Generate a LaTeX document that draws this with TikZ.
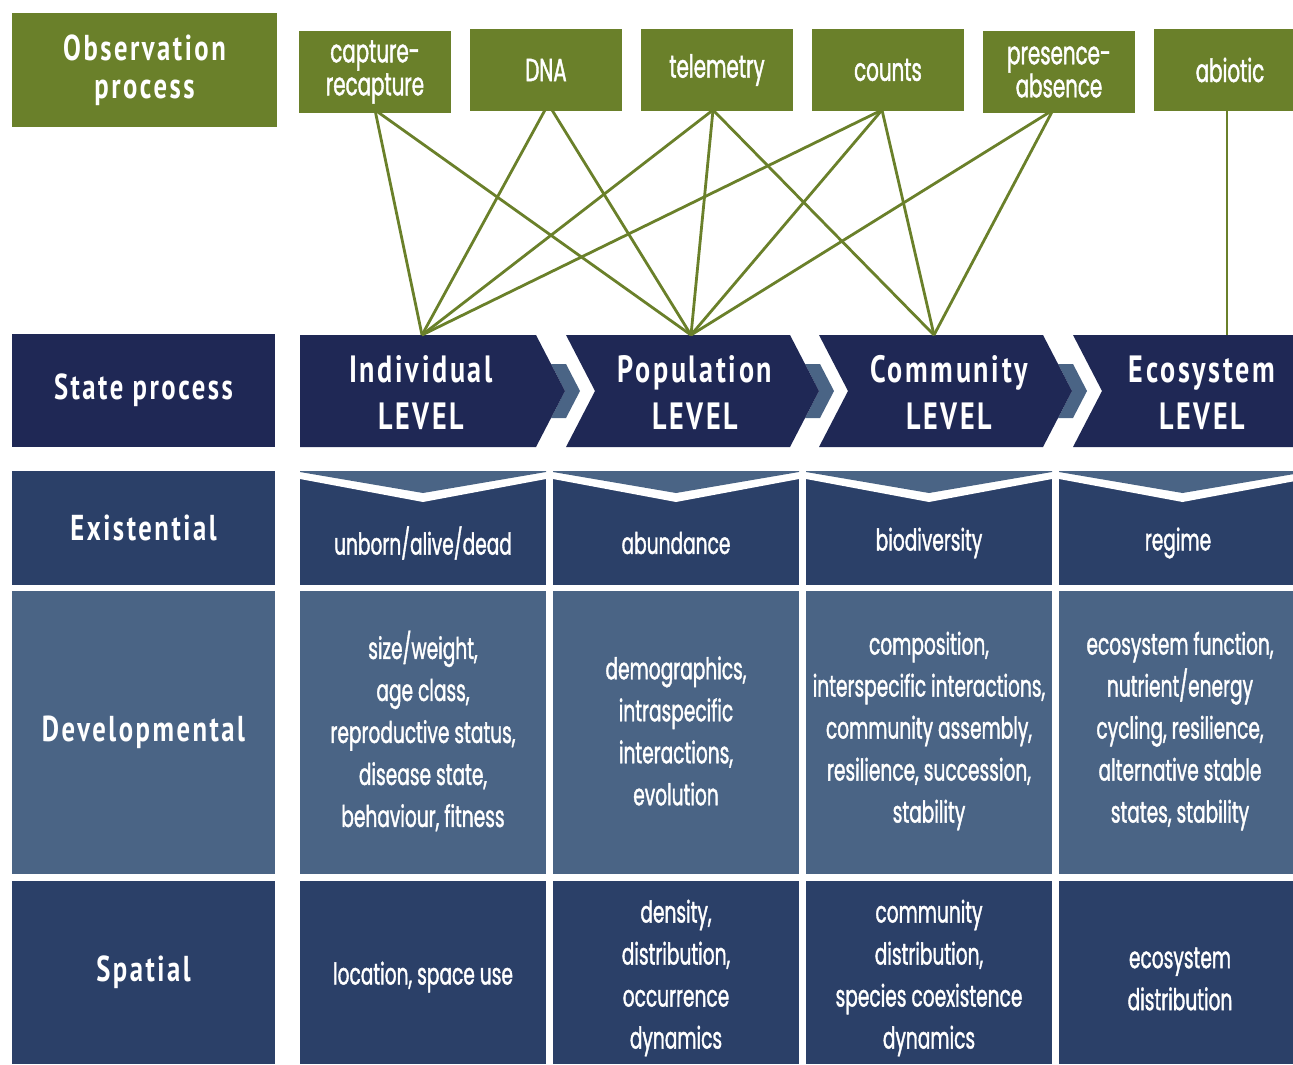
\documentclass[tikz,border=0pt]{standalone}
\usepackage{fontspec}
\newfontfamily\hfont{PT Sans}[FakeStretch=0.74,LetterSpace=7.0]
\newfontfamily\bfont{Poppins}[FakeStretch=0.62,FakeBold=1.3]
\definecolor{obsgreen}{HTML}{6A802A}
\definecolor{statenavy}{HTML}{1F2855}
\definecolor{rowdark}{HTML}{2B4068}
\definecolor{rowlight}{HTML}{4A6485}
\begin{document}
\begin{tikzpicture}[x=1pt,y=-1pt,
  obs/.style={fill=obsgreen, text=white, inner sep=0pt, minimum width=152pt, minimum height=81pt, align=center, font=\bfont\fontsize{32}{33}\selectfont},
  lbl/.style={inner sep=0pt, minimum width=263pt, text=white, align=center, font=\hfont\bfseries\fontsize{36}{40}\selectfont},
  lvl/.style={text=white, align=center, inner sep=0pt, font=\hfont\bfseries\fontsize{38}{47}\selectfont},
  cell/.style={text=white, align=center, inner sep=0pt, font=\bfont\fontsize{30}{42}\selectfont},
  link/.style={draw=obsgreen, line width=2.8pt}]
\useasboundingbox (0,0) rectangle (1293,1065);
\clip (0,0) rectangle (1293,1065);

% ---- observation process row ----
\node[lbl, fill=obsgreen, minimum width=265pt, minimum height=114pt] (obslbl) at (144.5,70) {Observation\\[-2pt]process};
\node[obs] (cap) at (375,72) {capture-\\recapture};
\node[obs] (dna) at (546,70) {DNA};
\node[obs] (tel) at (717,70) {telemetry};
\node[obs] (cnt) at (888,70) {counts};
\node[obs] (pre) at (1059,72) {presence-\\absence};
\node[obs] (abi) at (1230,70) {abiotic};

% ---- state process row ----
\node[lbl, fill=statenavy, minimum height=113pt] (statelbl) at (143.5,390.5) {State process};

% light small chevrons between levels
\foreach \s in {0,254,507}{
  \fill[rowlight] (551+\s,364) -- (566+\s,364) -- (580+\s,391) -- (566+\s,418) -- (551+\s,418) -- (565+\s,391) -- cycle;
}
% level chevrons
\fill[statenavy] (300,335) -- (536,335) -- (565,391) -- (536,447) -- (300,447) -- cycle;
\fill[statenavy] (566,335) -- (790,335) -- (819,391) -- (790,447) -- (566,447) -- (595,391) -- cycle;
\fill[statenavy] (819,335) -- (1043,335) -- (1072,391) -- (1043,447) -- (819,447) -- (848,391) -- cycle;
\fill[statenavy] (1073,335) -- (1320,335) -- (1320,447) -- (1073,447) -- (1102,391) -- cycle;
\node[lvl] (ind) at (421,393) {Individual\\LEVEL};
\node[lvl] (pop) at (695,393) {Population\\LEVEL};
\node[lvl] (com) at (949,393) {Community\\LEVEL};
\node[lvl] (eco) at (1202,393) {Ecosystem\\LEVEL};
\coordinate (indtop) at (422,335);
\coordinate (poptop) at (691,335);
\coordinate (comtop) at (934,335);
\coordinate (ecotop) at (1227,335);

% ---- connectors ----
\coordinate (capb) at (375,110);
\coordinate (dnab1) at (545,110);
\coordinate (dnab2) at (552,110);
\coordinate (telb) at (713,110);
\coordinate (cntb) at (882,110);
\coordinate (preb) at (1053,110);
\coordinate (abib) at (1227,110);
\draw[link] (capb) -- (indtop);
\draw[link] (capb) -- (poptop);
\draw[link] (dnab1) -- (indtop);
\draw[link] (dnab2) -- (poptop);
\draw[link] (telb) -- (indtop);
\draw[link] (telb) -- (poptop);
\draw[link] (telb) -- (comtop);
\draw[link] (cntb) -- (indtop);
\draw[link] (cntb) -- (poptop);
\draw[link] (cntb) -- (comtop);
\draw[link] (preb) -- (poptop);
\draw[link] (preb) -- (comtop);
\draw[link] (abib) -- (ecotop);

% ---- row labels ----
\node[lbl, fill=rowdark, minimum height=114pt] (exlbl) at (143.5,528) {Existential};
\node[lbl, fill=rowlight, minimum height=283pt] (devlbl) at (143.5,732.5) {Developmental};
\node[lbl, fill=rowdark, minimum height=183pt] (spalbl) at (143.5,972.5) {Spatial};

% ---- cell backgrounds ----
\foreach \xa/\xc/\xb in {300/423/546, 553/676/799, 806/929/1052, 1059/1182.5/1306}{
  \fill[rowdark] (\xa,471) rectangle (\xb,585);
  \fill[white] (\xa,471) -- (\xb,471) -- (\xb,479) -- (\xc,502) -- (\xa,479) -- cycle;
  \fill[rowlight] (\xa,471) -- (\xb,471) -- (\xb,472) -- (\xc,493) -- (\xa,472) -- cycle;
  \fill[rowlight] (\xa,591) rectangle (\xb,874);
  \fill[rowdark] (\xa,881) rectangle (\xb,1064);
}

% ---- existential texts ----
\node[cell] (ex1) at (423,543) {unborn/alive/dead};
\node[cell] (ex2) at (676,543) {abundance};
\node[cell] (ex3) at (929,543) {biodiversity};
\node[cell] (ex4) at (1178,543) {regime};

% ---- developmental texts ----
\node[cell] (dv1) at (423,731) {size/weight,\\age class,\\reproductive status,\\disease state,\\behaviour, fitness};
\node[cell] (dv2) at (676,731) {demographics,\\intraspecific\\interactions,\\evolution};
\node[cell] (dv3) at (929,731) {composition,\\interspecific interactions,\\community assembly,\\resilience, succession,\\stability};
\node[cell] (dv4) at (1180,731) {ecosystem function,\\nutrient/energy\\cycling, resilience,\\alternative stable\\states, stability};

% ---- spatial texts ----
\node[cell] (sp1) at (423,977) {location, space use};
\node[cell] (sp2) at (676,978) {density,\\distribution,\\occurrence\\dynamics};
\node[cell] (sp3) at (929,978) {community\\distribution,\\species coexistence\\dynamics};
\node[cell] (sp4) at (1180,979) {ecosystem\\distribution};
\end{tikzpicture}
\end{document}
